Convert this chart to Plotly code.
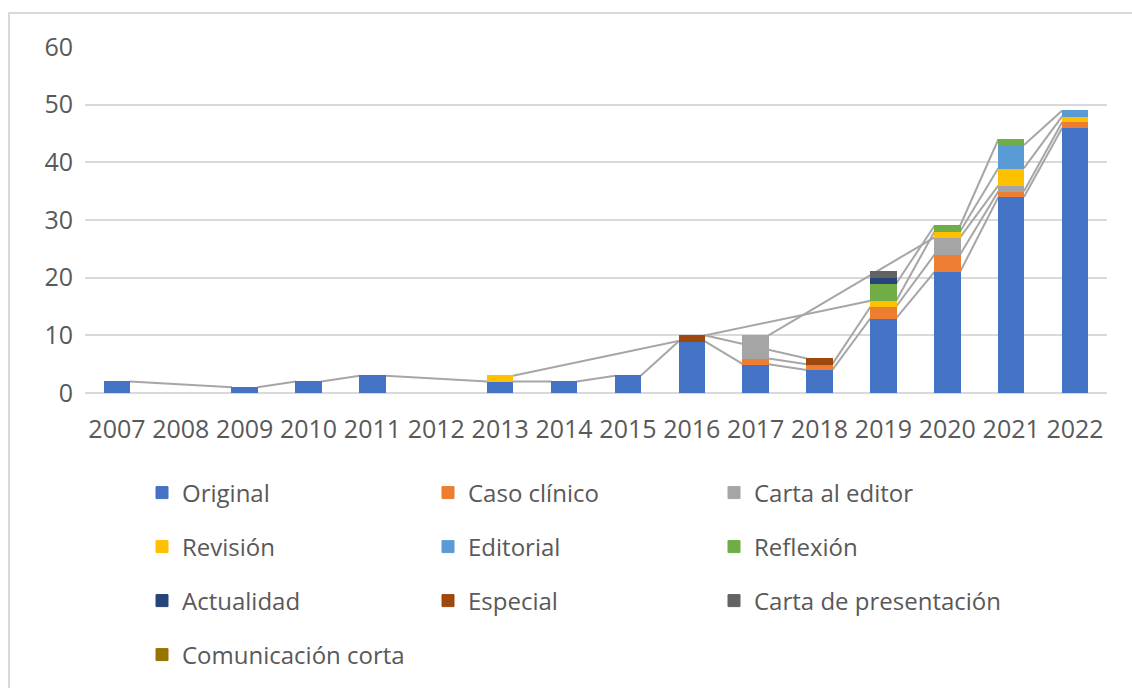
import plotly.graph_objects as go

years = [2007, 2008, 2009, 2010, 2011, 2012, 2013, 2014, 2015, 2016, 2017, 2018, 2019, 2020, 2021, 2022]
N = None
original = [2, N, 1, 2, 3, N, 2, 2, 3, 9, 5, 4, 13, 21, 34, 46]
caso_clinico = [N, N, N, N, N, N, N, N, N, N, 1, 1, 2, 3, 1, 1]
carta_editor = [N, N, N, N, N, N, N, N, N, N, 4, N, N, 3, 1, N]
revision = [N, N, N, N, N, N, 1, N, N, N, N, N, 1, 1, 3, 1]
editorial = [N, N, N, N, N, N, N, N, N, N, N, N, N, N, 4, 1]
reflexion = [N, N, N, N, N, N, N, N, N, N, N, N, 3, 1, 1, N]
actualidad = [N, N, N, N, N, N, N, N, N, N, N, N, 1, N, N, N]
especial = [N, N, N, N, N, N, N, N, N, 1, N, 1, N, N, N, N]
carta_presentacion = [N, N, N, N, N, N, N, N, N, N, N, N, 1, N, N, N]
comunicacion_corta = [N] * 16

series_names = ["Original", "Caso clínico", "Carta al editor", "Revisión", "Editorial",
                "Reflexión", "Actualidad", "Especial", "Carta de presentación", "Comunicación corta"]
series_values = [original, caso_clinico, carta_editor, revision, editorial,
                 reflexion, actualidad, especial, carta_presentacion, comunicacion_corta]
colors = ["#4472C4", "#ED7D31", "#A5A5A5", "#FFC000", "#5B9BD5",
          "#70AD47", "#264478", "#9E480E", "#636363", "#997300"]
legend_ids = ["legend", "legend", "legend", "legend2", "legend2", "legend2",
              "legend3", "legend3", "legend3", "legend4"]

BW = 0.4
FONT = "Open Sans"
GRAY_TXT = "#595959"

fig = go.Figure()

# series lines (Excel-style), connecting segment tops between consecutive non-blank values
cum = [0.0] * len(years)
for name, vals in zip(series_names, series_values):
    tops = []
    for i, v in enumerate(vals):
        cum[i] += (v or 0)
        tops.append(cum[i] if v is not None else None)
    idx = [i for i, t in enumerate(tops) if t is not None]
    lx, ly = [], []
    for a, b in zip(idx[:-1], idx[1:]):
        lx += [years[a] + BW / 2, years[b] - BW / 2, None]
        ly += [tops[a], tops[b], None]
    if lx:
        fig.add_trace(go.Scatter(x=lx, y=ly, mode="lines", line=dict(color="#A6A6A6", width=2),
                                 showlegend=False, hoverinfo="skip", zorder=0))

for name, vals, col, lg in zip(series_names, series_values, colors, legend_ids):
    fig.add_trace(go.Bar(x=years, y=vals, name=name, width=BW,
                         marker=dict(color=col, line=dict(color=col, width=1)),
                         legend=lg, zorder=1))

L, R, T, B = 85, 1107, 47, 394
W, H = 1132, 688

def px_x(p):
    return (p - L) / (R - L)

def px_y(p):
    return (B - p) / (B - T)

legend_common = dict(orientation="h", entrywidth=241, entrywidthmode="pixels",
                     font=dict(family=FONT, size=24, color=GRAY_TXT),
                     bgcolor="rgba(0,0,0,0)", xanchor="left", yanchor="middle",
                     x=px_x(142), traceorder="normal")
row_y = [493, 547, 601, 655]

fig.update_layout(
    width=W, height=H, autosize=False,
    margin=dict(l=L, r=W - R, t=T, b=H - B),
    paper_bgcolor="white", plot_bgcolor="white",
    barmode="stack",
    font=dict(family=FONT, color=GRAY_TXT),
    legend=dict(**legend_common, y=px_y(row_y[0])),
    legend2=dict(**legend_common, y=px_y(row_y[1])),
    legend3=dict(**legend_common, y=px_y(row_y[2])),
    legend4=dict(**legend_common, y=px_y(row_y[3])),
    xaxis=dict(range=[2006.5, 2022.5], tickvals=years, ticktext=[str(y) for y in years],
               showgrid=False, zeroline=False, showline=False, ticks="",
               tickfont=dict(family=FONT, size=25, color=GRAY_TXT), ticklabelstandoff=19),
    yaxis=dict(range=[0, 60], tickvals=[0, 10, 20, 30, 40, 50, 60],
               showgrid=True, gridcolor="#D9D9D9", gridwidth=2,
               zeroline=True, zerolinecolor="#D9D9D9", zerolinewidth=2,
               showline=False, ticks="",
               tickfont=dict(family=FONT, size=25, color=GRAY_TXT), ticklabelstandoff=11),
    shapes=[dict(type="rect", xref="paper", yref="paper",
                 x0=px_x(9), x1=px_x(1150), y0=px_y(710), y1=px_y(13),
                 line=dict(color="#D9D9D9", width=2), fillcolor="rgba(0,0,0,0)", layer="below")],
)

fig.write_html("out.html", config={"displayModeBar": False},
               post_script="document.body.style.margin='0';")
